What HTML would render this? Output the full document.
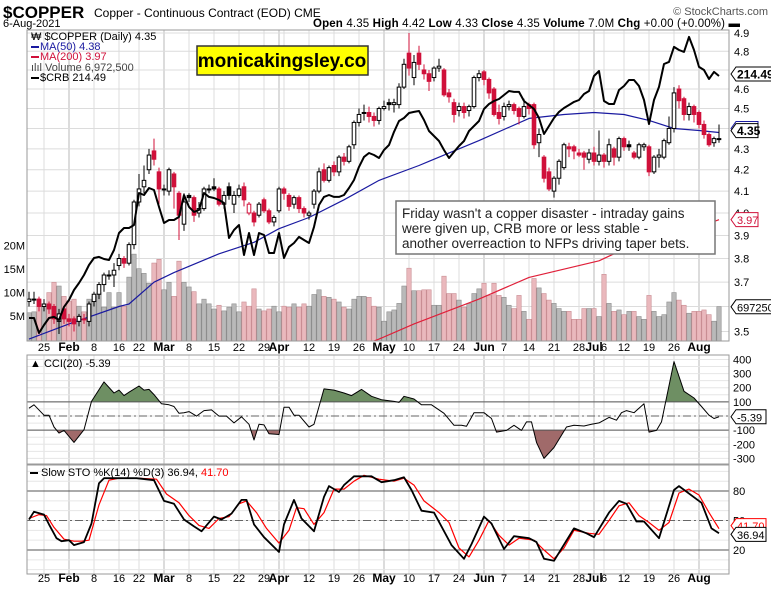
<!DOCTYPE html>
<html><head><meta charset="utf-8">
<style>
html,body{margin:0;padding:0;background:#fff;}
body{width:771px;height:589px;overflow:hidden;position:relative;font-family:"Liberation Sans",Arial,sans-serif;}
svg{position:absolute;left:0;top:0;}
text{font-family:"Liberation Sans",Arial,sans-serif;}
</style></head>
<body>
<svg id="chart" width="771" height="589" viewBox="0 0 771 589">
  <text x="3" y="18" font-size="17" font-weight="bold">$COPPER</text>
  <text x="94" y="17" font-size="12">Copper - Continuous Contract (EOD)  CME</text>
  <text x="768" y="15" font-size="11" fill="#555" text-anchor="end">© StockCharts.com</text>
  <text x="3" y="27" font-size="11">6-Aug-2021</text>
  <text x="313" y="27" font-size="11.5" textLength="427" lengthAdjust="spacing"><tspan font-weight="bold">Open</tspan> 4.35  <tspan font-weight="bold">High</tspan> 4.42  <tspan font-weight="bold">Low</tspan> 4.33  <tspan font-weight="bold">Close</tspan> 4.35  <tspan font-weight="bold">Volume</tspan> 7.0M  <tspan font-weight="bold">Chg</tspan> +0.00 (+0.00%) ▬</text>
</svg>
<script>
// ---------- DATA ----------
const dates=['Jan20','Jan21','Jan22','Jan25','Jan26','Jan27','Jan28','Jan29','Feb1','Feb2','Feb3','Feb4','Feb5','Feb8','Feb9','Feb10','Feb11','Feb12','Feb16','Feb17','Feb18','Feb19','Feb22','Feb23','Feb24','Feb25','Feb26','Mar1','Mar2','Mar3','Mar4','Mar5','Mar8','Mar9','Mar10','Mar11','Mar12','Mar15','Mar16','Mar17','Mar18','Mar19','Mar22','Mar23','Mar24','Mar25','Mar26','Mar29','Mar30','Mar31','Apr1','Apr5','Apr6','Apr7','Apr8','Apr9','Apr12','Apr13','Apr14','Apr15','Apr16','Apr19','Apr20','Apr21','Apr22','Apr23','Apr26','Apr27','Apr28','Apr29','Apr30','May3','May4','May5','May6','May7','May10','May11','May12','May13','May14','May17','May18','May19','May20','May21','May24','May25','May26','May27','May28','Jun1','Jun2','Jun3','Jun4','Jun7','Jun8','Jun9','Jun10','Jun11','Jun14','Jun15','Jun16','Jun17','Jun18','Jun21','Jun22','Jun23','Jun24','Jun25','Jun28','Jun29','Jun30','Jul1','Jul2','Jul6','Jul7','Jul8','Jul9','Jul12','Jul13','Jul14','Jul15','Jul16','Jul19','Jul20','Jul21','Jul22','Jul23','Jul26','Jul27','Jul28','Jul29','Jul30','Aug2','Aug3','Aug4','Aug5','Aug6'];
const opens=[3.62,3.63,3.63,3.60,3.61,3.60,3.54,3.59,3.55,3.55,3.54,3.55,3.54,3.62,3.65,3.69,3.73,3.73,3.77,3.80,3.78,3.86,4.05,4.12,4.20,4.29,4.19,4.11,4.10,4.18,4.09,3.95,4.08,4.07,4.00,4.02,4.11,4.12,4.11,4.04,4.12,4.04,4.08,4.12,4.00,4.00,3.99,4.06,4.01,3.96,4.01,4.11,4.08,4.04,4.07,4.02,3.99,4.04,4.10,4.20,4.15,4.22,4.19,4.26,4.24,4.32,4.43,4.48,4.48,4.46,4.44,4.50,4.53,4.52,4.52,4.61,4.79,4.66,4.79,4.70,4.68,4.66,4.71,4.70,4.58,4.53,4.49,4.51,4.49,4.51,4.66,4.69,4.65,4.60,4.48,4.46,4.51,4.52,4.50,4.46,4.52,4.52,4.33,4.26,4.19,4.10,4.16,4.21,4.31,4.31,4.28,4.28,4.25,4.28,4.24,4.27,4.24,4.30,4.26,4.35,4.32,4.28,4.26,4.31,4.31,4.19,4.26,4.26,4.33,4.40,4.60,4.55,4.47,4.51,4.48,4.42,4.37,4.33,4.35];
const closes=[3.63,3.63,3.60,3.61,3.59,3.55,3.57,3.55,3.54,3.53,3.56,3.55,3.61,3.65,3.69,3.73,3.73,3.75,3.80,3.78,3.86,4.05,4.11,4.15,4.27,4.25,4.11,4.11,4.20,4.12,3.99,4.05,4.07,3.99,4.02,4.11,4.11,4.11,4.04,4.08,4.08,4.08,4.11,4.06,4.04,3.96,4.04,4.01,3.96,3.98,4.11,4.09,4.03,4.07,4.02,4.00,4.00,4.10,4.19,4.15,4.21,4.19,4.26,4.24,4.31,4.43,4.47,4.48,4.46,4.44,4.50,4.51,4.52,4.53,4.61,4.73,4.71,4.74,4.73,4.68,4.64,4.71,4.72,4.57,4.56,4.47,4.51,4.48,4.51,4.66,4.68,4.65,4.58,4.47,4.45,4.51,4.52,4.49,4.46,4.51,4.50,4.32,4.37,4.16,4.11,4.16,4.24,4.32,4.30,4.29,4.27,4.26,4.28,4.24,4.27,4.24,4.32,4.26,4.35,4.31,4.31,4.26,4.32,4.32,4.19,4.26,4.27,4.34,4.40,4.58,4.54,4.47,4.51,4.47,4.42,4.37,4.32,4.35,4.35];
const highs=[3.66,3.66,3.64,3.63,3.62,3.61,3.59,3.60,3.57,3.56,3.57,3.57,3.62,3.66,3.70,3.74,3.75,3.78,3.82,3.81,3.87,4.06,4.18,4.22,4.30,4.35,4.21,4.13,4.21,4.19,4.10,4.09,4.09,4.08,4.05,4.12,4.13,4.16,4.12,4.10,4.14,4.10,4.13,4.14,4.05,4.01,4.05,4.07,4.02,3.99,4.12,4.12,4.09,4.08,4.08,4.03,4.01,4.11,4.21,4.23,4.22,4.24,4.27,4.28,4.32,4.44,4.50,4.52,4.51,4.48,4.51,4.54,4.55,4.55,4.63,4.76,4.90,4.78,4.83,4.73,4.70,4.72,4.76,4.71,4.60,4.55,4.53,4.53,4.52,4.67,4.70,4.70,4.66,4.61,4.52,4.53,4.54,4.53,4.51,4.55,4.53,4.53,4.40,4.27,4.21,4.17,4.25,4.33,4.33,4.32,4.30,4.29,4.30,4.31,4.39,4.28,4.35,4.31,4.36,4.36,4.34,4.29,4.33,4.33,4.32,4.27,4.30,4.35,4.46,4.61,4.62,4.56,4.53,4.52,4.49,4.44,4.38,4.36,4.42];
const lows=[3.60,3.61,3.58,3.58,3.57,3.53,3.49,3.53,3.52,3.50,3.52,3.53,3.52,3.60,3.63,3.66,3.71,3.68,3.75,3.76,3.77,3.84,4.03,4.09,4.18,4.22,4.04,4.08,4.08,4.02,3.88,3.92,4.05,3.96,3.98,4.01,4.09,4.10,4.03,4.02,4.06,4.00,4.07,4.03,3.99,3.94,3.98,4.00,3.95,3.94,4.00,4.06,4.01,4.02,4.00,3.98,3.97,4.02,4.09,4.14,4.14,4.17,4.17,4.22,4.23,4.30,4.41,4.44,4.43,4.41,4.42,4.49,4.49,4.48,4.50,4.60,4.67,4.62,4.70,4.65,4.59,4.64,4.69,4.56,4.53,4.43,4.46,4.45,4.46,4.50,4.64,4.62,4.55,4.46,4.42,4.44,4.49,4.47,4.42,4.45,4.47,4.30,4.26,4.14,4.10,4.07,4.13,4.20,4.26,4.25,4.26,4.20,4.23,4.22,4.22,4.21,4.22,4.22,4.24,4.29,4.29,4.25,4.25,4.29,4.17,4.18,4.21,4.25,4.32,4.38,4.50,4.44,4.44,4.43,4.40,4.35,4.31,4.31,4.33];
const volumeM=[5.7,5.9,8.5,7.0,10.0,12.2,11.4,9.2,8.2,8.6,7.1,5.9,8.6,9.2,10.0,6.9,10.0,6.9,10.0,7.1,13.3,18.2,15.1,14.1,12.0,16.3,17.1,10.6,12.2,9.2,16.7,12.2,11.2,10.2,7.6,8.6,7.6,6.5,7.3,6.1,6.9,7.6,5.9,8.0,7.1,10.8,6.5,6.1,6.5,7.1,5.9,7.1,6.9,7.6,6.9,7.6,7.1,9.6,10.6,9.2,9.0,8.6,8.0,6.9,6.5,8.6,9.2,9.2,9.0,7.1,6.9,3.9,5.9,6.3,7.7,11.4,15.2,10.4,10.4,10.6,10.6,7.3,7.3,13.5,9.8,9.8,8.4,6.9,7.7,9.8,10.8,12.0,9.4,12.0,9.4,9.0,7.3,6.6,9.4,6.0,4.3,13.0,11.0,9.8,8.4,7.7,6.6,6.0,6.0,4.3,4.3,6.6,6.6,6.6,4.9,13.9,7.7,6.0,6.3,5.3,6.0,6.0,4.9,4.3,9.4,6.0,4.9,5.3,8.0,10.0,8.4,7.3,5.6,6.0,6.0,6.3,5.3,3.9,7.0];
const crb=[166.1,166.1,163.1,164.7,166.1,166.3,165.7,168.3,169.7,171.7,173.1,174.7,176.7,178.1,178.3,177.9,177.7,179.7,183.1,184.1,184.1,184.7,191.1,190.7,192.1,191.7,188.3,185.1,185.7,185.7,186.3,190.7,188.3,187.3,187.7,191.1,190.3,190.1,189.7,189.1,182.1,183.7,184.7,178.7,183.1,178.7,183.1,182.7,179.1,179.1,183.1,178.1,180.3,181.1,182.3,181.7,181.1,184.3,188.7,190.3,190.7,190.3,190.3,190.7,192.1,193.7,196.3,198.3,199.1,198.7,198.1,199.7,200.7,203.3,205.5,206.1,207.1,207.3,207.5,205.7,203.5,202.5,201.5,199.7,198.1,199.3,200.5,201.5,203.5,204.5,205.5,207.9,208.9,209.5,209.9,210.7,211.5,211.3,211.3,209.5,208.7,207.9,206.1,202.9,204.5,206.1,207.3,208.1,208.7,209.3,209.7,210.9,211.5,214.5,215.5,209.5,208.9,208.9,211.7,212.5,213.7,213.7,212.5,209.7,204.9,209.7,212.3,216.9,217.3,220.3,219.7,219.3,222.3,219.7,216.3,215.7,213.9,215.3,214.49];
const ma50Days=[0,8,18,20,25,29,38,45,50,56,63,70,78,80,90,100,107,113,119,124,129,134,138];
const ma50Vals=[3.47,3.53,3.60,3.61,3.70,3.74,3.82,3.87,3.93,3.98,4.06,4.15,4.22,4.24,4.34,4.45,4.47,4.48,4.47,4.44,4.40,4.39,4.38];
const ma200Days=[66,70,77,90,100,108,114,117,125,133,138];
const ma200Vals=[3.44,3.47,3.53,3.63,3.72,3.76,3.79,3.82,3.87,3.93,3.97];
const cciDays=[0,1,3,4,5,6,7,9,11,12.5,15,17,18,19,20,22,23,24,25,26.5,28,29,30,31,32,33.5,35,36.5,38,39.5,41,42.5,44,45,46,47,48,50,51,52,53,54,56,57,59,61,63,64.5,66.5,68.5,70.5,73,74,75,77,78.5,80.5,83,85,86.5,87.5,89,91,92.5,93.5,95.5,97,98.5,99.5,100.5,101.5,103,105,107.5,109,111,112.5,114,116,117.5,118.5,119.5,121,123,124,125.5,126.5,129,131,133,134.5,136,137,138];
const cciVals=[55,79,6,6,-78,-121,-102,-187,-97,103,241,163,183,144,168,212,183,188,151,86,79,67,19,23,31,-1,38,43,-1,-1,-49,-6,-59,-170,-59,-63,-126,-131,62,62,6,6,-78,-59,192,183,163,144,188,139,115,103,96,139,120,79,79,19,-66,-66,-73,23,23,-18,-114,-102,-66,-102,-42,-42,-187,-300,-223,-78,-66,-71,-59,-49,-10,-30,23,38,23,86,-114,-102,-42,385,175,127,67,6,-18,-5.39];
const stoKDays=[0,1,3,4,5.5,6.5,8,9,11,12.5,14,15,17.5,21.5,25,27,29,31,33,34.5,37,38.5,40.5,42.5,43.5,45,47,50,51,53,54.5,57,59,60,62,63,65,68.5,70.5,73,75,76.5,78.5,81,84.5,87,88.5,91,92.5,95,97,100,101.5,103,105,109,111.5,113,116,118,119.5,121.5,123,126,129,130,134.5,136.5,138];
const stoKVals=[51,59,56,46,32,29,30,25,28,47,88,93,93,93,91,70,67,51,44,39,54,51,57,71,71,46,33,18,46,71,52,39,74,85,79,86,95,95,89,91,94,81,60,58,25,11,26,54,47,21,34,32,28,11,9,42,37,33,58,70,67,49,49,32,81,85,68,42,36.94];
const stoDDays=[0,2,3.5,5,7,9,10.5,12,14,16,18,22,25.5,27.5,30,32,34,36,38,40,42,43.5,45.5,47.5,50,52,53.5,55,57,59,61,63,65,67,70,73,75,77,79,82,84,86,88,90,92,94,96,98,101,103,105,107,109,112,114,116,118,120,122,124,126,128,130,132,134,136,138];
const stoDVals=[52,56,55,43,31,29,29,30,66,91,93,93,92,77,68,55,45,42,52,54,67,70,58,42,27,40,63,62,46,58,82,82,90,96,92,90,93,86,70,58,48,22,13,30,50,35,25,32,30,20,11,22,40,37,36,50,65,68,55,48,40,48,78,82,76,58,41.70];
const priceTicks=[4.9,4.8,4.7,4.6,4.5,4.4,4.3,4.2,4.1,4.0,3.9,3.8,3.7,3.6,3.5];
const volTicks=[5,10,15,20];
const cciTicks=[400,300,200,100,-100,-200,-300];
const stoTicks=[80,50,20];
const tickDays=[3,8,13,18,22,27,32,37,42,47,50,56,61,66,71,76,81,86,91,95,100,105,110,113,115,119,124,129,134];
const tickLabels=['25','Feb','8','16','22','Mar','8','15','22','29','Apr','12','19','26','May','10','17','24','Jun','7','14','21','28','Jul','6','12','19','26','Aug'];
const monthTicks=['Feb','Mar','Apr','May','Jun','Jul','Aug'];
const gridDays=[3,8,13,18,22,27,32,37,42,47,50,51,56,61,66,71,76,81,86,91,95,100,105,110,113,115,119,124,129,134];

// ---------- SCALES ----------
const L=27,R=729;
const xAt=i=>29+i*5.0;
const pY=p=>33+(Math.log(4.9)-Math.log(p))*887;
const vY=v=>339.5-v*4.69;
const crbY=v=>76+(214.49-v)*5;
const cY=v=>416-v*0.1414;
const sY=v=>550-(v-20)*0.983;
const MT=30,MB=341,CT=355,CB=464,ST=465,SB=574;

const NS='http://www.w3.org/2000/svg';
const svg=document.getElementById('chart');
function mk(tag,attrs,parent){const e=document.createElementNS(NS,tag);for(const k in attrs)e.setAttribute(k,attrs[k]);(parent||svg).appendChild(e);return e;}
function grp(name){const g=document.createElementNS(NS,'g');svg.appendChild(g);return g;}

const defs=mk('defs',{});
[['clipMain',MT,MB],['clipCci',CT,CB],['clipSto',ST,SB]].forEach(([id,t,b])=>{const c=mk('clipPath',{id:id},defs);mk('rect',{x:L,y:t,width:R-L,height:b-t},c);});
const clipHi=mk('clipPath',{id:'clipHi'},defs);mk('rect',{x:L,y:CT,width:R-L,height:cY(100)-CT},clipHi);
const clipLo=mk('clipPath',{id:'clipLo'},defs);mk('rect',{x:L,y:cY(-100),width:R-L,height:CB-cY(-100)},clipLo);

// ---------- GRID ----------
const gGrid=grp('grid-lines');
gridDays.forEach(d=>{
  const isM=[8,27,50,71,91,113,134].includes(d);
  [[MT,MB],[CT,CB],[ST,SB]].forEach(([t,b])=>{
    mk('line',{x1:xAt(d),x2:xAt(d),y1:t,y2:b,stroke:isM?'#b8b8b8':'#dcdcdc','stroke-width':1},gGrid);
  });
});
priceTicks.forEach(p=>{mk('line',{x1:L,x2:R,y1:pY(p),y2:pY(p),stroke:'#dcdcdc'},gGrid);});
for(let v=-300;v<=400;v+=50){mk('line',{x1:L,x2:R,y1:cY(v),y2:cY(v),stroke:'#e6e6e6'},gGrid);}
for(let v=0;v<=100;v+=10){mk('line',{x1:L,x2:R,y1:sY(v),y2:sY(v),stroke:'#e6e6e6'},gGrid);}

// ---------- VOLUME ----------
const gVol=grp('volume-bars');
volumeM.forEach((v,i)=>{
  const down=i>0&&closes[i]<closes[i-1];
  const b=mk('rect',{x:xAt(i)-2.2,y:vY(v),width:4.4,height:339.5-vY(v)+1.5,fill:down?'#eab8bd':'#b9b9b9',stroke:down?'#c98d93':'#8d8d8d','stroke-width':0.6},gVol);
  
  
});

function poly(days,vals,yf,color,w,name,clip){
  const pts=days.map((d,k)=>xAt(d).toFixed(1)+','+yf(vals[k]).toFixed(1)).join(' ');
  const p=mk('polyline',{points:pts,fill:'none',stroke:color,'stroke-width':w,'clip-path':'url(#'+clip+')','stroke-linejoin':'round'});
  
  
  return p;
}
poly(ma200Days,ma200Vals,pY,'#e0203a',1.2,'ma200-line','clipMain');
poly(ma50Days,ma50Vals,pY,'#1a1aa0',1.2,'ma50-line','clipMain');

// ---------- CANDLES ----------
const gC=grp('candlesticks');
closes.forEach((c,i)=>{
  const o=opens[i],x=xAt(i);
  const down=i>0&&c<closes[i-1];
  const col=down?'#d0103a':'#000';
  const hollow=c>=o;
  const g=mk('g',{},gC);
  
  
  mk('line',{x1:x,x2:x,y1:pY(highs[i]),y2:pY(lows[i]),stroke:col,'stroke-width':1},g);
  const top=pY(Math.max(o,c)),bot=pY(Math.min(o,c));
  mk('rect',{x:x-1.8,y:top,width:3.6,height:Math.max(1,bot-top),fill:hollow?'#fff':col,stroke:col,'stroke-width':1},g);
});

poly(dates.map((d,i)=>i),crb,crbY,'#000',2,'crb-line','clipMain');

// ---------- CCI ----------
const cciPts=cciDays.map((d,k)=>[xAt(d),cY(cciVals[k])]);
const hi=mk('polygon',{points:cciPts.map(p=>p.join(',')).join(' ')+' '+xAt(138)+','+cY(100)+' '+xAt(0)+','+cY(100),fill:'#6e8f63',stroke:'none','clip-path':'url(#clipHi)'});


const lo=mk('polygon',{points:cciPts.map(p=>p.join(',')).join(' ')+' '+xAt(138)+','+cY(-100)+' '+xAt(0)+','+cY(-100),fill:'#a06a6a',stroke:'none','clip-path':'url(#clipLo)'});


mk('line',{x1:L,x2:R,y1:cY(100),y2:cY(100),stroke:'#555','stroke-width':1});
mk('line',{x1:L,x2:R,y1:cY(-100),y2:cY(-100),stroke:'#555','stroke-width':1});
mk('line',{x1:L,x2:R,y1:cY(0),y2:cY(0),stroke:'#666','stroke-width':1,'stroke-dasharray':'8,3,2,3'});
poly(cciDays,cciVals,cY,'#000',1,'cci-line','clipCci');

// ---------- STO ----------
mk('line',{x1:L,x2:R,y1:sY(80),y2:sY(80),stroke:'#555'});
mk('line',{x1:L,x2:R,y1:sY(20),y2:sY(20),stroke:'#555'});
mk('line',{x1:L,x2:R,y1:sY(50),y2:sY(50),stroke:'#666','stroke-dasharray':'8,3,2,3'});
poly(stoDDays,stoDVals,sY,'#ff0000',1.2,'sto-d-line','clipSto');
poly(stoKDays,stoKVals,sY,'#000',1.8,'sto-k-line','clipSto');

[[MT,MB,'price-panel'],[CT,CB,'cci-panel'],[ST,SB,'sto-panel']].forEach(([t,b,n])=>{
  const r=mk('rect',{x:L,y:t,width:R-L,height:b-t,fill:'none',stroke:'#9a9a9a','stroke-width':1});
  
  
});

// ---------- AXIS LABELS ----------
const gAx=grp('axis-labels');
function txt(x,y,s,attrs,parent,name){const t=mk('text',Object.assign({x:x,y:y,'font-size':11},attrs||{}),parent||gAx);t.textContent=s;return t;}
priceTicks.forEach(p=>txt(734,pY(p)+4,p.toFixed(1),{},gAx,'price-tick'));
volTicks.forEach(v=>txt(25,vY(v)+4,v+'M',{'text-anchor':'end'},gAx,'volume-tick'));
cciTicks.forEach(v=>txt(733,cY(v)+4,String(v),{},gAx,'cci-tick'));
stoTicks.forEach(v=>txt(733,sY(v)+4,String(v),{},gAx,'sto-tick'));
tickDays.forEach((d,k)=>{
  const lab=tickLabels[k],bold=monthTicks.includes(lab);
  [351,582].forEach(y=>txt(xAt(d),y,lab,{'text-anchor':'middle','font-weight':bold?'bold':'normal','font-size':bold?12:11},gAx,'date-tick'));
});

// ---------- VALUE TAGS ----------
function tag(y,s,color,bold,name,w){
  const g=mk('g',{});
  
  
  const x=731;w=w||34;
  mk('polygon',{points:`${x},${y} ${x+5},${y-7} ${x+5+w},${y-7} ${x+5+w},${y+7} ${x+5},${y+7}`,fill:'#fff',stroke:color,'stroke-width':1},g);
  const t=mk('text',{x:x+6,y:y+4.5,'font-size':bold?12:11,'font-weight':bold?'bold':'normal',fill:bold?'#000':color},g);t.textContent=s;
}
tag(74,'214.49','#000',true,'crb-value-tag',36);
tag(pY(4.38)-4,'4.38','#1a1aa0',false,'ma50-value-tag',22);
tag(pY(4.35)-8,'4.35','#000',true,'close-value-tag',22);
tag(pY(3.97),'3.97','#d0103a',false,'ma200-value-tag',22);
tag(vY(6.97),'6972500','#000',false,'volume-value-tag',40);
tag(cY(-5.39),'-5.39','#000',false,'cci-value-tag',30);
tag(sY(41.70)-3,'41.70','#ff0000',false,'sto-d-value-tag',30);
tag(sY(36.94)+1,'36.94','#000',false,'sto-k-value-tag',30);
</script>
<svg width="771" height="589" style="pointer-events:none">
  <g font-size="11">
    <text x="31" y="40">₩ $COPPER (Daily) 4.35</text>
    <rect x="31" y="46" width="8" height="2" fill="#1a1aa0"/><text x="40" y="50" fill="#1a1aa0">MA(50) 4.38</text>
    <rect x="31" y="56" width="8" height="2" fill="#d0103a"/><text x="40" y="60" fill="#d0103a">MA(200) 3.97</text>
    <text x="31" y="71" fill="#444">ılıl Volume 6,972,500</text>
    <rect x="31" y="77" width="8" height="2" fill="#000"/><text x="40" y="81">$CRB 214.49</text>
  </g>
  <g>
    <rect x="197" y="46" width="171" height="29" fill="#ffff00" stroke="#333" stroke-width="1.5"/>
    <text x="282" y="67" font-size="19" font-weight="bold" text-anchor="middle">monicakingsley.co</text>
  </g>
  <g>
    <rect x="396" y="201" width="319" height="53" fill="#fff" stroke="#777" stroke-width="1.5"/>
    <text font-size="13.5" fill="#222">
      <tspan x="402" y="218">Friday wasn't a copper disaster - intraday gains</tspan>
      <tspan x="402" y="233">were given up, CRB more or less stable -</tspan>
      <tspan x="402" y="248">another overreaction to NFPs driving taper bets.</tspan>
    </text>
  </g>
  <g>
    <text x="30" y="367" font-size="11">▲ CCI(20) -5.39</text>
  </g>
  <g>
    <rect x="30" y="472" width="8" height="2" fill="#000"/>
    <text x="41" y="476" font-size="11">Slow STO %K(14) %D(3) 36.94, <tspan fill="#ff0000">41.70</tspan></text>
  </g>
</svg>
</body></html>
